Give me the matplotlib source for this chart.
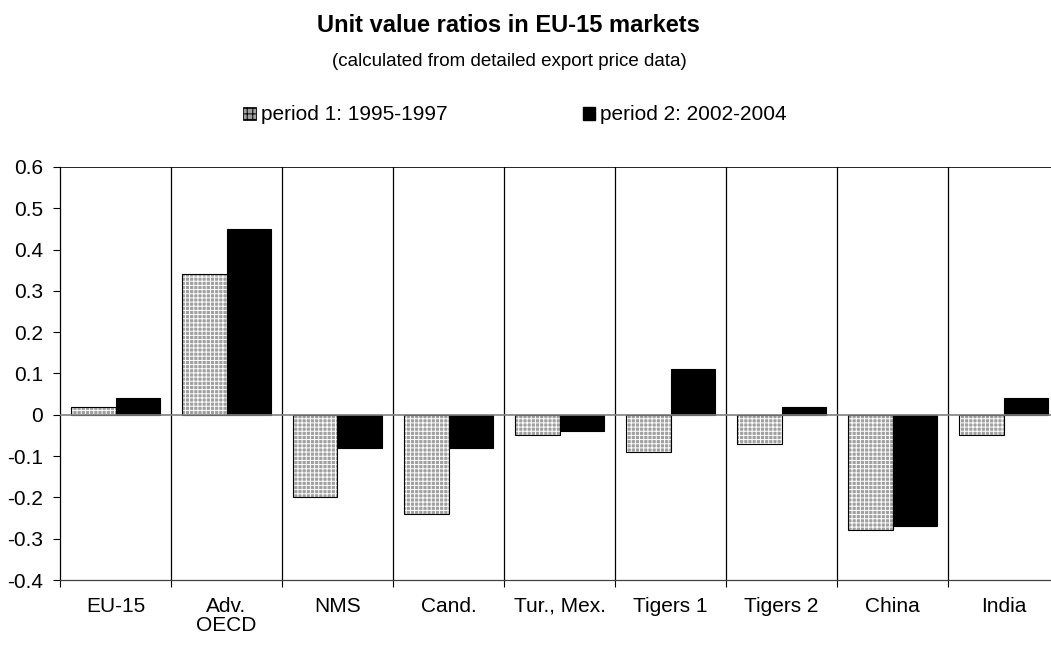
import matplotlib
matplotlib.use("Agg")
import matplotlib.pyplot as plt
from matplotlib.patches import Patch
import numpy as np

categories = ["EU-15", "Adv.\nOECD", "NMS", "Cand.", "Tur., Mex.", "Tigers 1", "Tigers 2", "China", "India"]
period1 = [0.02, 0.34, -0.20, -0.24, -0.05, -0.09, -0.07, -0.28, -0.05]
period2 = [0.04, 0.45, -0.08, -0.08, -0.04, 0.11, 0.02, -0.27, 0.04]
yticks = [0.6, 0.5, 0.4, 0.3, 0.2, 0.1, 0, -0.1, -0.2, -0.3, -0.4]
labels = ["period 1: 1995-1997", "period 2: 2002-2004"]

plt.rcParams['font.family'] = ['Liberation Sans', 'DejaVu Sans']
plt.rcParams['hatch.linewidth'] = 0.7

HATCH_FACE = '#a0a0a0'

fig = plt.figure(figsize=(10.51, 6.47), dpi=100)
ax = fig.add_axes([60/1051, 67/647, 999/1051, 413/647])

x = np.arange(len(categories))
w = 0.405
# hatched fill
ax.bar(x - w/2, period1, w, color=HATCH_FACE, edgecolor='white', hatch='++++', linewidth=0, zorder=2)
ax.bar(x - w/2, period1, w, fill=False, edgecolor='black', linewidth=0.8, zorder=3)
ax.bar(x + w/2, period2, w, color='black', edgecolor='black', linewidth=0.8, zorder=3)

ax.set_xlim(-0.5, len(categories) - 0.5)
ax.set_ylim(-0.4, 0.6)
ax.set_yticks(yticks)
ax.set_yticklabels([("%g" % v) for v in yticks], fontsize=15)

ax.set_xticks(x)
ax.set_xticklabels(categories, fontsize=15, linespacing=1.05)
ax.tick_params(axis='x', which='major', length=0, pad=12)
ax.set_xticks(np.arange(-0.5, len(categories), 1), minor=True)
ax.tick_params(axis='x', which='minor', length=5, width=0.8, direction='out')
ax.tick_params(axis='y', length=5, width=0.8, direction='out', pad=7)

for b in np.arange(0.5, len(categories) - 0.5, 1):
    ax.axvline(b, color='black', linewidth=0.9, zorder=1)
ax.axhline(0, color='#808080', linewidth=1.2, zorder=4)
ax.axhline(0.6, color='black', linewidth=1.2, zorder=1)

for s in ['right', 'top']:
    ax.spines[s].set_visible(False)
ax.spines['left'].set_linewidth(0.9)
ax.spines['bottom'].set_linewidth(0.9)
ax.spines['bottom'].set_color('#404040')

fig.text(508/1051, 1 - 32/647, "Unit value ratios in EU-15 markets", ha='center', va='baseline',
         fontsize=17, fontweight='bold')
fig.text(509/1051, 1 - 66/647, "(calculated from detailed export price data)", ha='center', va='baseline',
         fontsize=13.5)

handles = [Patch(facecolor=HATCH_FACE, edgecolor='black', hatch='+++', linewidth=0.6),
           Patch(facecolor='black', edgecolor='black')]
leg = fig.legend(handles, labels, loc='center left', bbox_to_anchor=(243/1051, 1 - 115/647),
                 ncol=2, frameon=False, fontsize=15, handlelength=0.6, handleheight=0.6,
                 handletextpad=0.25, columnspacing=6.5, borderaxespad=0, borderpad=0)

fig.savefig("out.png", dpi=100)
